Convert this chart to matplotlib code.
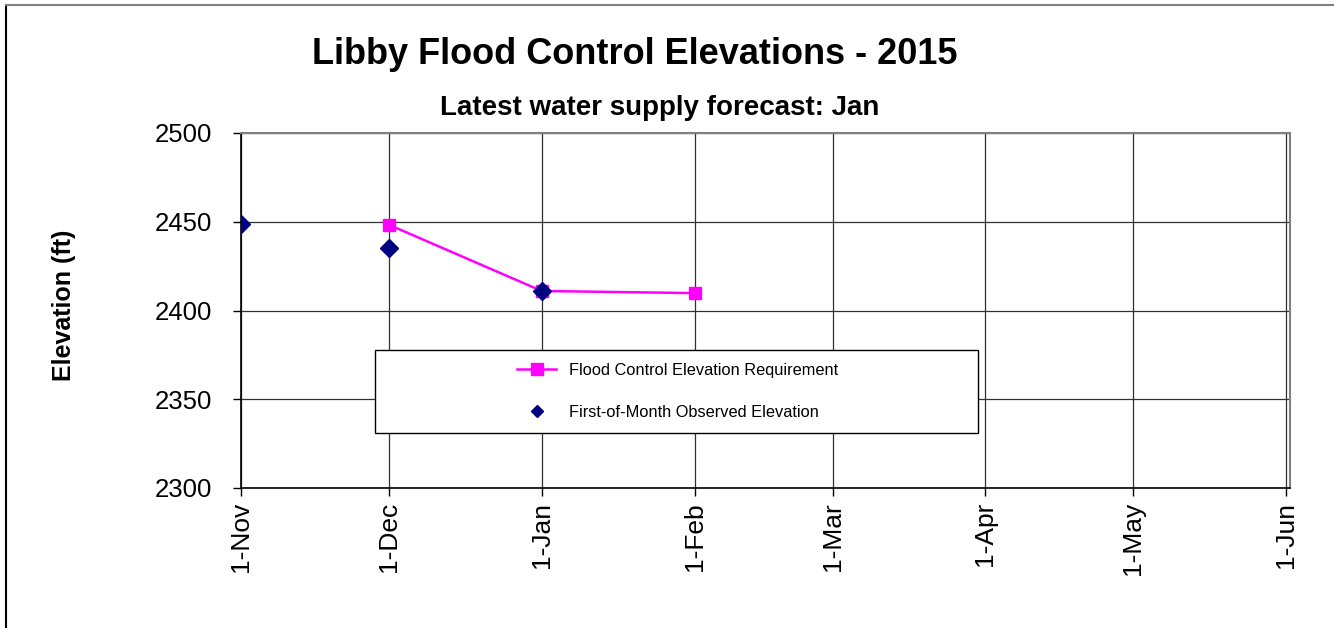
import matplotlib
matplotlib.use("Agg")
import matplotlib.pyplot as plt
import matplotlib.dates as mdates
from matplotlib.patches import Rectangle
from matplotlib.lines import Line2D
import datetime as dt

# ---- data ----
tick_dates = ["2014-11-01", "2014-12-01", "2015-01-01", "2015-02-01",
              "2015-03-01", "2015-04-01", "2015-05-01", "2015-06-01"]
tick_labels = ["1-Nov", "1-Dec", "1-Jan", "1-Feb", "1-Mar", "1-Apr", "1-May", "1-Jun"]
flood_dates = ["2014-12-01", "2015-01-01", "2015-02-01"]
flood_values = [2448.3, 2411.0, 2409.8]
obs_dates = ["2014-11-01", "2014-12-01", "2015-01-01"]
obs_values = [2448.9, 2435.4, 2410.8]
y_ticks = [2300, 2350, 2400, 2450, 2500]
legend_labels = ["Flood Control Elevation Requirement", "First-of-Month Observed Elevation"]

def to_dt(lst):
    return [dt.datetime.strptime(s, "%Y-%m-%d") for s in lst]

plt.rcParams['font.family'] = ['Liberation Sans', 'DejaVu Sans']

fig = plt.figure(figsize=(13.34, 6.28), dpi=100)
ax = fig.add_axes([241/1334, 1-488/628, (1290-241)/1334, (488-133)/628])

td = to_dt(tick_dates)
ax.set_xlim(mdates.date2num(td[0]), mdates.date2num(td[-1]) + 0.8)
ax.set_ylim(2300, 2500)
ax.set_xticks(mdates.date2num(td))
ax.set_xticklabels(tick_labels, rotation=90, fontsize=19)
ax.set_yticks(y_ticks)
ax.set_yticklabels([str(v) for v in y_ticks], fontsize=18.5)
ax.tick_params(axis='both', direction='out', length=6, width=1, color='black')
ax.tick_params(axis='y', pad=15)
ax.tick_params(axis='x', pad=4)
ax.grid(True, color='#303030', linewidth=0.9)
ax.set_axisbelow(True)
for s in ['top', 'right']:
    ax.spines[s].set_color('#808080')
    ax.spines[s].set_linewidth(1.5)
for s in ['left', 'bottom']:
    ax.spines[s].set_color('black')
    ax.spines[s].set_linewidth(1.2)

ax.plot(to_dt(flood_dates), flood_values, color='#FF00FF', linewidth=1.8,
        marker='s', markersize=9, markerfacecolor='#FF00FF', markeredgecolor='#FF00FF',
        zorder=3)
ax.plot(to_dt(obs_dates), obs_values, linestyle='none', marker='D', markersize=9,
        color='#000080', zorder=4)

fig.text(64/1334, 1-305/628, 'Elevation (ft)', rotation=90, fontsize=18,
         fontweight='bold', ha='center', va='center')
fig.text(635/1334, 1-55/628, 'Libby Flood Control Elevations - 2015', fontsize=26,
         fontweight='bold', ha='center', va='center')
fig.text(660/1334, 1-108/628, 'Latest water supply forecast: Jan', fontsize=20,
         fontweight='bold', ha='center', va='center')

# legend box
rect = Rectangle((375/1334, 1-433/628), (978-375)/1334, (433-350)/628,
                 transform=fig.transFigure, facecolor='white', edgecolor='black',
                 linewidth=1, zorder=5)
fig.patches.append(rect)
h1 = Line2D([], [], color='#FF00FF', linewidth=1.8, marker='s', markersize=8)
h2 = Line2D([], [], color='#000080', linestyle='none', marker='D', markersize=6)
leg = fig.legend([h1, h2], legend_labels, loc='center left',
                 bbox_to_anchor=(517/1334, 1-391.5/628), frameon=False, borderpad=0,
                 borderaxespad=0,
                 fontsize=11.8, handlelength=2.4, handletextpad=0.75, labelspacing=1.65)
leg.set_zorder(6)

# outer border
fig.add_artist(Line2D([6/1334, 6/1334], [0, 1-5/628], transform=fig.transFigure,
                      color='black', linewidth=1.5))
fig.add_artist(Line2D([6/1334, 1], [1-5/628, 1-5/628], transform=fig.transFigure,
                      color='#808080', linewidth=1.5))

fig.savefig('out.png', dpi=100)
